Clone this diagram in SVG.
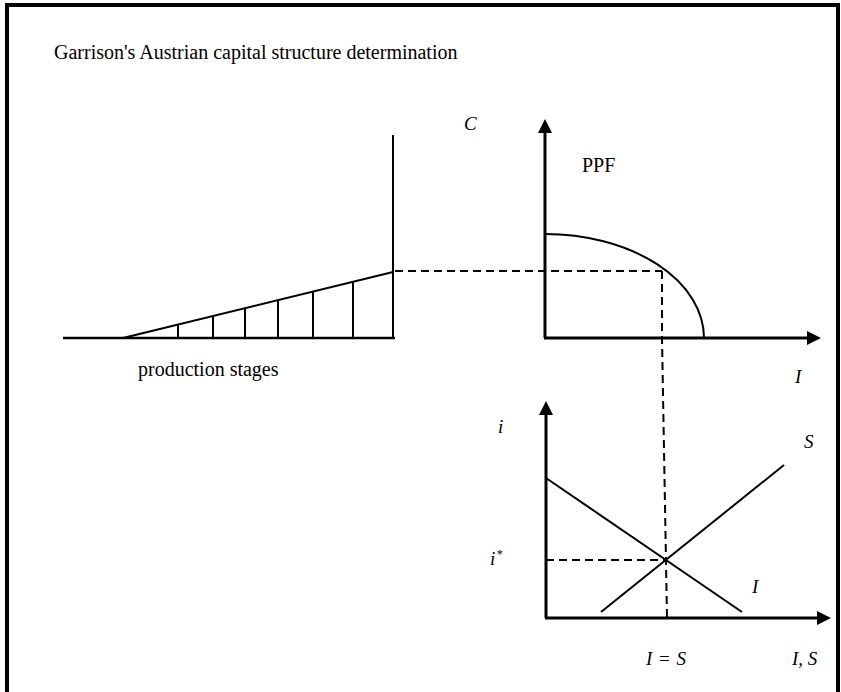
<svg xmlns="http://www.w3.org/2000/svg" width="841" height="692" viewBox="0 0 841 692">
<style>
.t{font-family:"Liberation Serif","Times New Roman",serif;fill:#000}
.m{font-family:"Liberation Serif","Times New Roman",serif;font-style:italic;fill:#000}
.ax{stroke:#000;stroke-width:3;fill:none}
.ln{stroke:#000;stroke-width:2;fill:none}
.dash{stroke:#000;stroke-width:2;fill:none;stroke-dasharray:8 5}
.ah{fill:#000}
</style>
<rect width="841" height="692" fill="#fff"/>
<g id="frame">
<path d="M7,692 V5 H838 V692" fill="none" stroke="#000" stroke-width="4"/>
</g>
<text class="t" x="54" y="59" font-size="20">Garrison's Austrian capital structure determination</text>

<g id="production-stages">
<line class="ax" x1="63" y1="338" x2="395" y2="338" style="stroke-width:2.5"/>
<line class="ln" x1="393" y1="135" x2="393" y2="338"/>
<line class="ln" x1="123" y1="338" x2="393" y2="272"/>
<g class="ln">
<line x1="178" y1="324.6" x2="178" y2="338"/>
<line x1="213" y1="316" x2="213" y2="338"/>
<line x1="245" y1="308.2" x2="245" y2="338"/>
<line x1="278" y1="300.1" x2="278" y2="338"/>
<line x1="313" y1="291.6" x2="313" y2="338"/>
<line x1="353" y1="281.8" x2="353" y2="338"/>
</g>
<text class="t" x="138" y="376" font-size="20">production stages</text>
</g>

<g id="ppf-chart">
<line class="ax" x1="545" y1="131" x2="545" y2="338"/>
<line class="ax" x1="544" y1="338" x2="809" y2="338"/>
<polygon class="ah" points="545,119 538,133 552,133"/>
<polygon class="ah" points="821,338 807,331 807,345"/>
<path class="ln" d="M545,234 A159,104 0 0 1 704,338"/>
<text class="m" x="464" y="130" font-size="19">C</text>
<text class="t" x="582" y="172" font-size="20">PPF</text>
<text class="m" x="795" y="383" font-size="19">I</text>
</g>

<g id="loanable-funds-chart">
<line class="ax" x1="546" y1="412" x2="546" y2="618"/>
<line class="ax" x1="545" y1="618" x2="819" y2="618"/>
<polygon class="ah" points="546,401 539,415 553,415"/>
<polygon class="ah" points="831,618 817,611 817,625"/>
<line class="ln" x1="546" y1="478" x2="742" y2="612"/>
<line class="ln" x1="601" y1="612" x2="784" y2="465"/>
<text class="m" x="498" y="433" font-size="19">i</text>
<text class="m" x="804" y="448" font-size="19">S</text>
<text class="m" x="490" y="565" font-size="19">i<tspan font-size="12" dx="1" dy="-7">*</tspan></text>
<text class="m" x="752" y="593" font-size="19">I</text>
<text class="m" x="646" y="665" font-size="19">I <tspan font-style="normal" dx="2">=</tspan> <tspan dx="2">S</tspan></text>
<text class="m" x="792" y="665" font-size="19">I, S</text>
</g>

<g id="connectors">
<line class="dash" x1="395" y1="271" x2="662" y2="271"/>
<polyline class="dash" points="662,271 662,338 667,618"/>
<line class="dash" x1="546" y1="560" x2="666" y2="560"/>
</g>
</svg>
